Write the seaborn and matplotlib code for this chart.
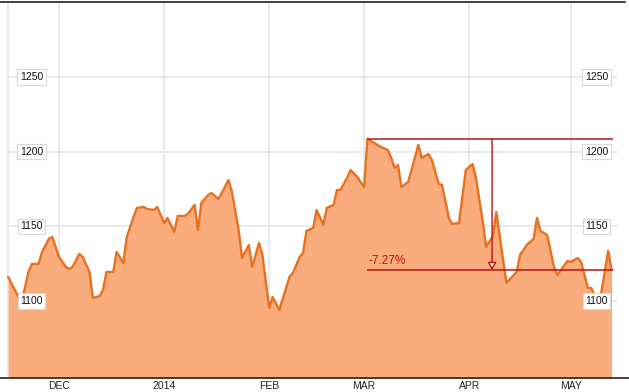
import numpy as np
import pandas as pd
import matplotlib
matplotlib.use("Agg")
import matplotlib.pyplot as plt
import matplotlib.dates as mdates
import seaborn as sns

# ---- data ----
dates = [
    "2013-11-16", "2013-11-19", "2013-11-20", "2013-11-22", "2013-11-23", "2013-11-25",
    "2013-11-26", "2013-11-28", "2013-11-29", "2013-12-01", "2013-12-03", "2013-12-04",
    "2013-12-05", "2013-12-07", "2013-12-08", "2013-12-10", "2013-12-11", "2013-12-13",
    "2013-12-14", "2013-12-15", "2013-12-17", "2013-12-18", "2013-12-20", "2013-12-21",
    "2013-12-23", "2013-12-24", "2013-12-26", "2013-12-27", "2013-12-29", "2013-12-30",
    "2014-01-01", "2014-01-02", "2014-01-04", "2014-01-05", "2014-01-07", "2014-01-08",
    "2014-01-10", "2014-01-11", "2014-01-12", "2014-01-14", "2014-01-15", "2014-01-17",
    "2014-01-18", "2014-01-20", "2014-01-21", "2014-01-23", "2014-01-24", "2014-01-26",
    "2014-01-27", "2014-01-29", "2014-01-30", "2014-02-01", "2014-02-02", "2014-02-04",
    "2014-02-07", "2014-02-08", "2014-02-10", "2014-02-11", "2014-02-12", "2014-02-14",
    "2014-02-15", "2014-02-17", "2014-02-18", "2014-02-20", "2014-02-21", "2014-02-22",
    "2014-02-24", "2014-02-25", "2014-02-27", "2014-03-01", "2014-03-02", "2014-03-04",
    "2014-03-06", "2014-03-08", "2014-03-09", "2014-03-10", "2014-03-11", "2014-03-12",
    "2014-03-14", "2014-03-15", "2014-03-17", "2014-03-18", "2014-03-20", "2014-03-21",
    "2014-03-23", "2014-03-24", "2014-03-26", "2014-03-27", "2014-03-29", "2014-03-31",
    "2014-04-02", "2014-04-03", "2014-04-05", "2014-04-06", "2014-04-08", "2014-04-09",
    "2014-04-11", "2014-04-12", "2014-04-15", "2014-04-16", "2014-04-18", "2014-04-20",
    "2014-04-21", "2014-04-22", "2014-04-24", "2014-04-26", "2014-04-27", "2014-04-30",
    "2014-05-01", "2014-05-03", "2014-05-04", "2014-05-06", "2014-05-07", "2014-05-09",
    "2014-05-10", "2014-05-12", "2014-05-13",
]
values = [
    1116.1, 1102.7, 1099.3, 1119.4, 1124.8, 1124.8,
    1132.8, 1141.5, 1142.9, 1129.5, 1122.8, 1121.4,
    1122.8, 1131.5, 1129.5, 1119.4, 1102.0, 1103.3,
    1107.4, 1119.4, 1119.4, 1132.8, 1125.4, 1142.9,
    1156.3, 1162.3, 1162.9, 1161.6, 1160.9, 1162.9,
    1152.2, 1155.6, 1146.2, 1156.9, 1156.9, 1158.3,
    1164.3, 1147.5, 1165.6, 1171.0, 1172.3, 1168.3,
    1172.3, 1181.0, 1173.0, 1147.5, 1128.8, 1137.5,
    1122.8, 1138.8, 1130.8, 1095.3, 1102.7, 1094.0,
    1116.1, 1118.8, 1129.5, 1132.1, 1146.9, 1148.9,
    1160.9, 1150.9, 1162.3, 1164.3, 1174.3, 1174.3,
    1182.4, 1187.7, 1183.0, 1176.3, 1208.5, 1205.8,
    1203.1, 1201.1, 1195.8, 1189.1, 1191.1, 1176.3,
    1179.7, 1187.7, 1204.5, 1195.8, 1198.4, 1194.4,
    1178.3, 1177.7, 1155.6, 1151.6, 1152.2, 1187.7,
    1191.7, 1182.4, 1152.9, 1136.2, 1143.5, 1159.6,
    1127.5, 1112.1, 1119.4, 1130.8, 1137.5, 1141.5,
    1155.6, 1146.9, 1144.2, 1122.8, 1117.4, 1126.8,
    1126.1, 1128.8, 1126.1, 1108.7, 1108.7, 1098.7,
    1106.0, 1133.5, 1120.8,
]
month_ticks = ["2013-12-01", "2014-01-01", "2014-02-01", "2014-03-01", "2014-04-01", "2014-05-01"]
month_labels = ["DEC", "2014", "FEB", "MAR", "APR", "MAY"]
y_ticks = [1100, 1150, 1200, 1250]
drawdown_pct = -7.27
arrow_date = "2014-04-07 18:00"

# ---- style ----
sns.set_style("white")
plt.rcParams["font.family"] = ["Liberation Sans", "DejaVu Sans"]

LINE = "#E8701E"
FILL = "#FBAC7C"
RED = "#B81414"
GRID = "#E6E6E6"

df = pd.DataFrame({"date": pd.to_datetime(dates), "value": values})

fig = plt.figure(figsize=(6.29, 3.92), dpi=100)
ax = fig.add_axes([0.0, 14 / 392, 1.0, 1 - 16 / 392])

x_lo = pd.Timestamp("2013-11-13 14:24")
x_hi = pd.Timestamp("2014-05-18 03:22")
y_lo, y_hi = 1048.4, 1300.2
ax.set_ylim(y_lo, y_hi)
ax.set_xlim(x_lo, x_hi)

# grid
for yt in y_ticks:
    ax.axhline(yt, xmin=8 / 629, xmax=617 / 629, color=GRID, lw=1.2, zorder=0)
for mt in month_ticks:
    ax.axvline(pd.Timestamp(mt), color=GRID, lw=1.2, zorder=0)
ax.axvline(df["date"].iloc[0], color=GRID, lw=1.2, zorder=0)

# area + line
ax.fill_between(df["date"], df["value"], y_lo, color=FILL, lw=0, zorder=1)
sns.lineplot(data=df, x="date", y="value", color=LINE, lw=1.7, ax=ax, zorder=2)

# drawdown annotation
peak_idx = int(np.argmax(values))
peak_date = df["date"].iloc[peak_idx]
peak_val = values[peak_idx]
trough_val = peak_val * (1 + drawdown_pct / 100)
last_date = df["date"].iloc[-1]
ax.hlines([peak_val, trough_val], peak_date, last_date + pd.Timedelta(hours=12),
          color=RED, lw=1.1, zorder=3)
ax.annotate("", xy=(pd.Timestamp(arrow_date), trough_val),
            xytext=(pd.Timestamp(arrow_date), peak_val),
            arrowprops=dict(arrowstyle="-|>,head_length=0.45,head_width=0.25",
                            fc="white", ec=RED, lw=1.0, shrinkA=0, shrinkB=0),
            zorder=4)
ax.annotate(f"{drawdown_pct:.2f}%", xy=(peak_date, trough_val), xytext=(0.5, 2.5),
            textcoords="offset points", color=RED, fontsize=8.5,
            ha="left", va="bottom", zorder=4)

# y labels in boxes on both sides
box = dict(boxstyle="square,pad=0.25", fc="white", ec="#D8D8D8", lw=0.8)
for yt in y_ticks:
    for xf in (31.5 / 629, 596.5 / 629):
        ax.text(xf, yt, str(yt), transform=ax.get_yaxis_transform(),
                ha="center", va="center", fontsize=7.5, color="#111111",
                bbox=box, zorder=5)

# axes decorations
ax.set_xticks(pd.to_datetime(month_ticks))
ax.set_xticklabels(month_labels, fontsize=7.5, color="#222222")
ax.tick_params(axis="x", length=0, pad=2)
ax.set_yticks([])
ax.set_xlabel("")
ax.set_ylabel("")
for s in ("left", "right"):
    ax.spines[s].set_visible(False)
ax.spines["bottom"].set_color("#222222")
ax.spines["bottom"].set_linewidth(1.2)
ax.spines["top"].set_color("#222222")
ax.spines["top"].set_linewidth(1.2)
ax.spines["top"].set_bounds(mdates.date2num(x_lo), mdates.date2num(pd.Timestamp("2014-05-17")))

fig.savefig("out.png", dpi=100)
